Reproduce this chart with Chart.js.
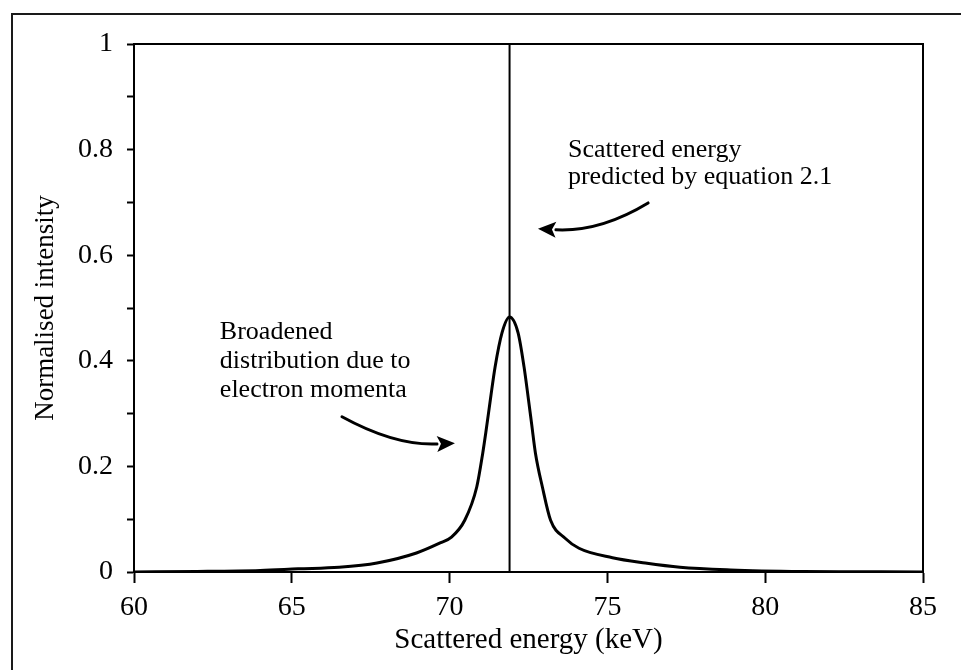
<!DOCTYPE html>
<html>
<head>
<meta charset="utf-8">
<script src="https://cdn.jsdelivr.net/npm/chart.js@4.4.1/dist/chart.umd.min.js"></script>
<style>
  html, body { margin: 0; padding: 0; background: #fff; }
  #wrap { width: 961px; height: 670px; }
</style>
</head>
<body>
<div id="wrap"><canvas id="c" width="961" height="670"></canvas></div>
<script>
// Broadened Compton profile (keV, normalised intensity)
const energy = [60, 62, 64, 65.2, 66.5, 67.7, 68.95, 69.7, 70.06, 70.48, 70.86, 71.05, 71.15, 71.3, 71.44, 71.66, 71.9,
                72.17, 72.36, 72.5, 72.6, 72.72, 72.94, 73.2, 73.66, 74.1, 75.16, 76.2, 77.3, 78.9, 81.2, 83, 85];
const intensity = [0, 0.001, 0.003, 0.006, 0.009, 0.017, 0.036, 0.055, 0.066, 0.098, 0.161, 0.225, 0.265, 0.33, 0.388, 0.453, 0.483,
                   0.453, 0.388, 0.326, 0.28, 0.225, 0.161, 0.098, 0.064, 0.045, 0.027, 0.017, 0.009, 0.004, 0.001, 0.0005, 0];

// Energy from equation 2.1 (unbroadened line)
const predictedEnergy = 71.9;
const predictedLine = [0, 1];

const xTickLabels = ['60', '65', '70', '75', '80', '85'];
const yTickLabels = ['0', '0.2', '0.4', '0.6', '0.8', '1'];

// Annotation anchors in data units (keV, intensity)
const noteUpper = { at: [73.75, 0.786], lines: ['Scattered energy', 'predicted by equation 2.1'] };
const noteLower = { at: [62.72, 0.441], lines: ['Broadened', 'distribution due to', 'electron momenta'] };
const arrowUpper = { from: [76.29, 0.699], ctrl: [74.77, 0.644], tip: [72.8, 0.650] };
const arrowLower = { from: [66.59, 0.294], ctrl: [68.27, 0.239], tip: [70.17, 0.244] };

const SERIF = '"Liberation Serif", "Times New Roman", serif';

const decorations = {
  id: 'decorations',
  beforeDraw(chart) {
    const ctx = chart.ctx;
    ctx.save();
    ctx.strokeStyle = '#1a1a1a';
    ctx.lineWidth = 2;
    ctx.beginPath();
    ctx.moveTo(12, chart.height);
    ctx.lineTo(12, 14);
    ctx.lineTo(chart.width, 14);
    ctx.stroke();
    ctx.restore();
  },
  afterDatasetsDraw(chart) {
    const ctx = chart.ctx;
    const xs = chart.scales.x, ys = chart.scales.y;
    const px = p => [xs.getPixelForValue(p[0]), ys.getPixelForValue(p[1])];
    const a = chart.chartArea;
    ctx.save();
    // plot frame
    ctx.strokeStyle = '#000';
    ctx.lineWidth = 2;
    ctx.strokeRect(a.left, a.top, a.right - a.left, a.bottom - a.top);

    // notes
    ctx.fillStyle = '#000';
    ctx.font = '26px ' + SERIF;
    ctx.textAlign = 'left';
    ctx.textBaseline = 'alphabetic';
    const drawNote = (n, gap) => {
      const [x, y] = px(n.at);
      n.lines.forEach((t, i) => ctx.fillText(t, x, y + i * gap));
    };
    drawNote(noteUpper, 27);
    drawNote(noteLower, 29);

    // curved arrows
    const drawArrow = (ar) => {
      const s = px(ar.from), c = px(ar.ctrl), t = px(ar.tip);
      const ang = Math.atan2(t[1] - c[1], t[0] - c[0]);
      const len = 18, half = 8;
      const bx = t[0] - len * Math.cos(ang), by = t[1] - len * Math.sin(ang);
      ctx.strokeStyle = '#000';
      ctx.lineWidth = 3;
      ctx.lineCap = 'round';
      ctx.beginPath();
      ctx.moveTo(s[0], s[1]);
      ctx.quadraticCurveTo(c[0], c[1], bx, by);
      ctx.stroke();
      ctx.fillStyle = '#000';
      ctx.beginPath();
      ctx.moveTo(t[0], t[1]);
      ctx.lineTo(bx + half * Math.sin(ang), by - half * Math.cos(ang));
      ctx.lineTo(bx + 4 * Math.cos(ang), by + 4 * Math.sin(ang));
      ctx.lineTo(bx - half * Math.sin(ang), by + half * Math.cos(ang));
      ctx.closePath();
      ctx.fill();
    };
    drawArrow(arrowUpper);
    drawArrow(arrowLower);
    ctx.restore();
  }
};

new Chart(document.getElementById('c'), {
  type: 'line',
  data: {
    datasets: [
      {
        data: energy.map((e, i) => ({ x: e, y: intensity[i] })),
        borderColor: '#000',
        borderWidth: 3,
        pointRadius: 0,
        cubicInterpolationMode: 'monotone',
        fill: false
      },
      {
        data: predictedLine.map(v => ({ x: predictedEnergy, y: v })),
        borderColor: '#000',
        borderWidth: 2,
        pointRadius: 0,
        fill: false
      }
    ]
  },
  options: {
    responsive: false,
    animation: false,
    devicePixelRatio: 1,
    layout: { padding: { top: 44, right: 38, bottom: 0, left: 0 } },
    plugins: { legend: { display: false }, tooltip: { enabled: false } },
    scales: {
      x: {
        type: 'linear',
        min: 60,
        max: 85,
        afterFit: s => { s.height = 98; },
        border: { display: true, color: '#000', width: 2 },
        grid: { drawOnChartArea: false, drawTicks: true, tickLength: 11, tickColor: '#000', tickWidth: 2 },
        ticks: {
          stepSize: 5,
          autoSkip: false,
          maxRotation: 0,
          color: '#000',
          padding: 8,
          font: { family: SERIF, size: 28 },
          callback: v => xTickLabels[Math.round((v - 60) / 5)]
        },
        title: {
          display: true,
          text: 'Scattered energy (keV)',
          color: '#000',
          font: { family: SERIF, size: 29 },
          padding: { top: 0, bottom: 12 }
        }
      },
      y: {
        min: 0,
        max: 1,
        afterFit: s => { s.width = 134; },
        border: { display: true, color: '#000', width: 2 },
        grid: { drawOnChartArea: false, drawTicks: true, tickLength: 7, tickColor: '#000', tickWidth: 2 },
        ticks: {
          stepSize: 0.1,
          autoSkip: false,
          color: '#000',
          padding: 14,
          font: { family: SERIF, size: 28 },
          callback: v => {
            const k = Math.round(v * 10);
            return k % 2 === 0 ? yTickLabels[k / 2] : '';
          }
        },
        title: {
          display: true,
          text: 'Normalised intensity',
          color: '#000',
          font: { family: SERIF, size: 27 },
          padding: { top: 30, bottom: 0 }
        }
      }
    }
  },
  plugins: [decorations]
});
</script>
</body>
</html>
